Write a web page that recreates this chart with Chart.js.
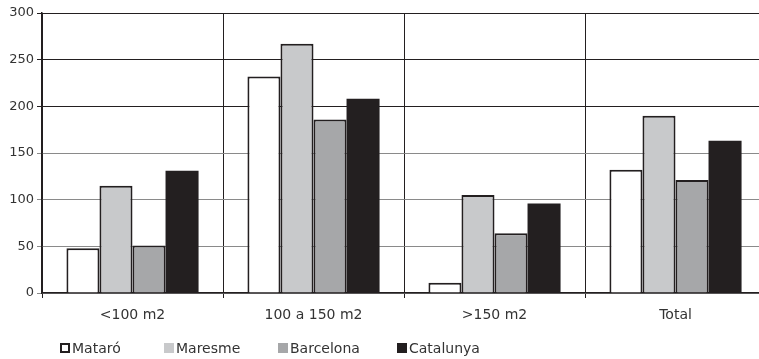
<!DOCTYPE html>
<html>
<head>
<meta charset="utf-8">
<script src="https://cdn.jsdelivr.net/npm/chart.js@4/dist/chart.umd.min.js"></script>
<style>
  html, body { margin: 0; padding: 0; background: #fff; overflow: hidden; }
  #wrap { width: 766px; height: 359px; }
</style>
</head>
<body>
<div id="wrap"><canvas id="chart1"></canvas></div>
<script>
const categories = ['<100 m2', '100 a 150 m2', '>150 m2', 'Total'];
const mataro = [48, 232, 11, 132];
const maresme = [115, 267, 105, 190];
const barcelona = [51, 186, 64, 121];
const catalunya = [131, 208, 96, 163];
const seriesNames = ['Mataró', 'Maresme', 'Barcelona', 'Catalunya'];
const yTicks = [0, 50, 100, 150, 200, 250, 300];

const fillColors = ['#ffffff', '#c8c9cb', '#a6a7a9', '#231f20'];
const edge = '#231f20';
const fontFam = '"DejaVu Sans", sans-serif';

// petite légende dessinée à la main, en bas à gauche
const bottomLegend = {
  id: 'bottomLegend',
  afterDraw(chart) {
    const ctx = chart.ctx;
    const starts = [60, 164, 278, 397];
    ctx.save();
    ctx.font = '14px ' + fontFam;
    ctx.textBaseline = 'middle';
    chart.data.datasets.forEach((ds, i) => {
      const x = starts[i], y = 348;
      ctx.fillStyle = ds.backgroundColor;
      ctx.fillRect(x, y - 5, 10, 10);
      if (i === 0) {
        ctx.strokeStyle = edge;
        ctx.lineWidth = 2;
        ctx.strokeRect(x + 1, y - 4, 8, 8);
      }
      ctx.fillStyle = '#333';
      ctx.fillText(ds.label, x + 12, y + 1);
    });
    ctx.restore();
  }
};

const datasets = [mataro, maresme, barcelona, catalunya].map((vals, i) => ({
  label: seriesNames[i],
  data: vals,
  backgroundColor: fillColors[i],
  borderColor: edge,
  borderWidth: i === 3 ? 0 : 2,
  barPercentage: 1,
  categoryPercentage: 0.73
}));

new Chart(document.getElementById('chart1'), {
  type: 'bar',
  data: { labels: categories, datasets: datasets },
  options: {
    responsive: true,
    maintainAspectRatio: false,
    animation: false,
    layout: { padding: { top: 13, right: 0, left: 0, bottom: 0 } },
    plugins: {
      legend: { display: false },
      tooltip: { enabled: false }
    },
    scales: {
      x: {
        grid: { color: '#231f20', lineWidth: 1, tickLength: 5, offset: true },
        border: { color: '#231f20', width: 1.5 },
        ticks: { color: '#333', font: { family: fontFam, size: 14 }, padding: 9 },
        afterFit: (s) => { s.height = 66; }
      },
      y: {
        min: 0,
        max: 300,
        afterBuildTicks: (s) => { s.ticks = yTicks.map(v => ({ value: v })); },
        grid: {
          color: (c) => c.tick && c.tick.value >= 200 ? '#231f20' : '#8a8a8a',
          lineWidth: 1,
          tickLength: 5
        },
        border: { color: '#231f20', width: 1.5 },
        ticks: { color: '#333', font: { family: fontFam, size: 13 }, padding: 3 },
        afterFit: (s) => { s.width = 42; }
      }
    }
  },
  plugins: [bottomLegend]
});
</script>
</body>
</html>
